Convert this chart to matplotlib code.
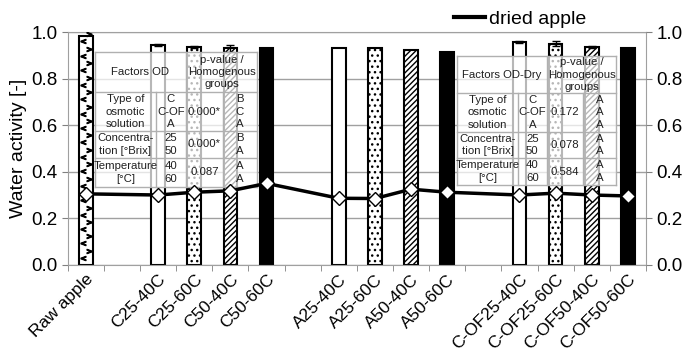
import numpy as np
import matplotlib.pyplot as plt
from matplotlib.patches import Rectangle
from matplotlib.lines import Line2D

plt.rcParams['font.family'] = ['Liberation Sans', 'DejaVu Sans']
plt.rcParams['hatch.linewidth'] = 1.0

# data
labels = ['Raw apple', '', 'C25-40C', 'C25-60C', 'C50-40C', 'C50-60C', '',
          'A25-40C', 'A25-60C', 'A50-40C', 'A50-60C', '',
          'C-OF25-40C', 'C-OF25-60C', 'C-OF50-40C', 'C-OF50-60C']
fresh = [0.985, None, 0.943, 0.935, 0.930, 0.930, None,
         0.933, 0.930, 0.922, 0.915, None,
         0.958, 0.950, 0.937, 0.930]
fresh_err = [0, None, 0.005, 0.005, 0.015, 0.003, None,
             0, 0, 0, 0, None,
             0.005, 0.012, 0.005, 0]
dried = [0.305, None, 0.300, 0.312, 0.318, 0.350, None,
         0.286, 0.285, 0.325, 0.312, None,
         0.300, 0.308, 0.300, 0.296]
styles = ['raw', None, 'white', 'dots', 'stripes', 'black', None,
          'white', 'dots', 'stripes', 'black', None,
          'white', 'dots', 'stripes', 'black']

table_od = [['Type of\nosmotic\nsolution', 'C\nC-OF\nA', '0.000*', 'B\nC\nA'],
            ['Concentra-\ntion [°Brix]', '25\n50', '0.000*', 'B\nA'],
            ['Temperature\n[°C]', '40\n60', '0.087', 'A\nA']]
table_dry = [['Type of\nosmotic\nsolution', 'C\nC-OF\nA', '0.172', 'A\nA\nA'],
             ['Concentra-\ntion [°Brix]', '25\n50', '0.078', 'A\nA'],
             ['Temperature\n[°C]', '40\n60', '0.584', 'A\nA']]

fig = plt.figure(figsize=(6.85, 3.56), dpi=100)
ax = fig.add_axes([0.099, 0.256, 0.844, 0.654])

x = np.arange(len(labels))
w = 0.38
for i in range(len(labels)):
    if fresh[i] is None:
        continue
    st = styles[i]
    fc = 'black' if st == 'black' else 'white'
    hatch = {'dots': '...', 'stripes': '//////'}.get(st)
    ax.bar(x[i], fresh[i], w, color=fc, edgecolor='black', linewidth=1.5,
           hatch=hatch, zorder=2)
    if fresh_err[i]:
        ax.errorbar(x[i], fresh[i], yerr=fresh_err[i], fmt='none', ecolor='black',
                    elinewidth=1, capsize=3, zorder=3)
    if st == 'raw':
        ys = np.arange(0.03, fresh[i] - 0.02, 0.062)
        ax.plot(np.full(len(ys), x[i] - 0.09), ys, ls='none', marker='$<$', ms=3.5,
                color='black', zorder=3)
        ax.plot(np.full(len(ys), x[i] + 0.09), ys + 0.03, ls='none', marker='$>$', ms=3.5,
                color='black', zorder=3)

xs = [x[i] for i in range(len(labels)) if dried[i] is not None]
ys = [d for d in dried if d is not None]
ax.plot(xs, ys, color='black', lw=2.5, marker='D', ms=7, mfc='white', mec='black',
        mew=1, zorder=6)


def draw_table(ax, rows, title, xe, ye):
    # xe: column edges, ye: row edges (top to bottom), data coords
    ax.add_patch(Rectangle((xe[0], ye[-1]), xe[-1] - xe[0], ye[0] - ye[-1],
                           facecolor='white', alpha=0.72, edgecolor='none', zorder=4))
    gc = '#b0b0b0'
    kw = dict(color=gc, lw=1, zorder=5)
    for yy in ye:
        ax.plot([xe[0], xe[-1]], [yy, yy], **kw)
    ax.plot([xe[0], xe[0]], [ye[0], ye[-1]], **kw)
    ax.plot([xe[-1], xe[-1]], [ye[0], ye[-1]], **kw)
    ax.plot([xe[2], xe[2]], [ye[0], ye[-1]], **kw)
    for c in (1, 3):
        ax.plot([xe[c], xe[c]], [ye[1], ye[-1]], **kw)
    tk = dict(ha='center', va='center', fontsize=8.2, color='#202020', zorder=5,
              linespacing=1.28)
    ax.text((xe[0] + xe[2]) / 2, (ye[0] + ye[1]) / 2, title, **tk)
    ax.text((xe[2] + xe[4]) / 2, (ye[0] + ye[1]) / 2,
            'p-value /\nHomogenous\ngroups', **tk)
    for r, row in enumerate(rows):
        yc = (ye[r + 1] + ye[r + 2]) / 2
        for c, txt in enumerate(row):
            ax.text((xe[c] + xe[c + 1]) / 2, yc, txt, **tk)


draw_table(ax, table_od, 'Factors OD',
           [0.25, 1.94, 2.77, 3.79, 4.74], [0.914, 0.742, 0.575, 0.459, 0.335])
draw_table(ax, table_dry, 'Factors OD-Dry',
           [10.28, 11.95, 12.76, 13.77, 14.68], [0.897, 0.737, 0.572, 0.458, 0.343])

ax.set_xlim(-0.5, len(labels) - 0.5)
ax.set_ylim(0, 1.0)
ticks = np.arange(0, 1.01, 0.2)
ax.set_yticks(ticks)
ax.set_yticklabels([f'{v:.1f}' for v in ticks], fontsize=13.5)
ax.set_xticks(x)
ax.set_xticklabels(labels, rotation=45, ha='right', rotation_mode='anchor', fontsize=12.5)
ax.set_xticks(np.arange(-0.5, len(labels), 1), minor=True)
ax.tick_params(axis='x', which='major', length=0, pad=5)
ax.tick_params(axis='x', which='minor', length=4, color='#808080')
ax.tick_params(axis='y', length=4, color='#808080')
ax.grid(axis='y', color='#a0a0a0', lw=1, zorder=0)
ax.set_axisbelow(True)
for s in ax.spines.values():
    s.set_color('#a0a0a0')
ax.set_ylabel('Water activity [-]', fontsize=14, labelpad=3)

ax2 = ax.twinx()
ax2.set_ylim(0, 1.0)
ax2.set_yticks(ticks)
ax2.set_yticklabels([f'{v:.1f}' for v in ticks], fontsize=13.5)
ax2.tick_params(axis='y', length=4, color='#808080')
for s in ax2.spines.values():
    s.set_visible(False)

handle = Line2D([], [], color='black', lw=3)
ax.legend([handle], ['dried apple'], loc='lower left', bbox_to_anchor=(0.655, 0.985),
          frameon=False, fontsize=14, handlelength=1.6, handletextpad=0.2,
          borderaxespad=0)

plt.savefig('out.png', dpi=100)
